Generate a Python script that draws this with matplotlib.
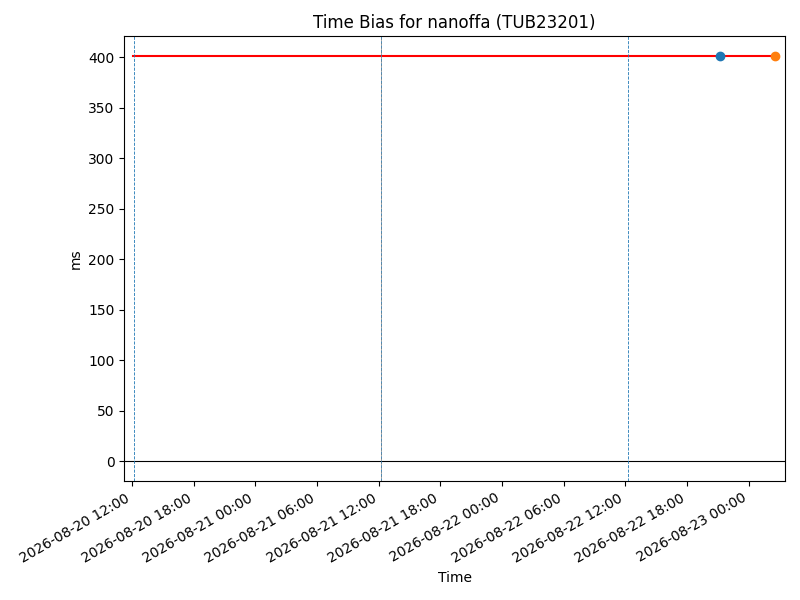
import matplotlib
matplotlib.use("Agg")
import matplotlib.pyplot as plt
import matplotlib.dates as mdates
import pandas as pd

title = "Time Bias for nanoffa (TUB23201)"
line_times = ["2026-08-20 12:08", "2026-08-23 02:35"]
line_values = [401, 401]
point_times = ["2026-08-22 21:14", "2026-08-23 02:35"]
point_values = [401, 401]
vline_times = ["2026-08-20 12:13", "2026-08-21 12:13", "2026-08-22 12:17"]
xlim_times = ["2026-08-20 11:15", "2026-08-23 03:30"]
ylim = (-20, 421)

lt = pd.to_datetime(line_times)
pt = pd.to_datetime(point_times)
vt = pd.to_datetime(vline_times)

fig, ax = plt.subplots(figsize=(8, 6), dpi=100)
ax.plot(lt, line_values, color="red", linewidth=1.5)
for i, (t, v) in enumerate(zip(pt, point_values)):
    ax.plot([t], [v], "o", color=f"C{i}")
ax.axhline(0, color="black", linewidth=0.8)
for i, t in enumerate(vt):
    ax.axvline(t, color="C0", linestyle="--", linewidth=0.6)
    if i == 1:
        ax.axvline(t, color="gray", linestyle=(2, (3.7, 1.6)), linewidth=0.6, alpha=0.8)

ax.set_xlim(pd.to_datetime(xlim_times[0]), pd.to_datetime(xlim_times[1]))
ax.set_ylim(*ylim)
ax.xaxis.set_major_locator(mdates.HourLocator(byhour=[0, 6, 12, 18]))
ax.xaxis.set_major_formatter(mdates.DateFormatter("%Y-%m-%d %H:%M"))
ax.set_title(title)
ax.set_xlabel("Time")
ax.set_ylabel("ms")
fig.autofmt_xdate()
fig.subplots_adjust(left=0.1555, right=0.981, top=0.94, bottom=0.198)
fig.savefig("out.png")
